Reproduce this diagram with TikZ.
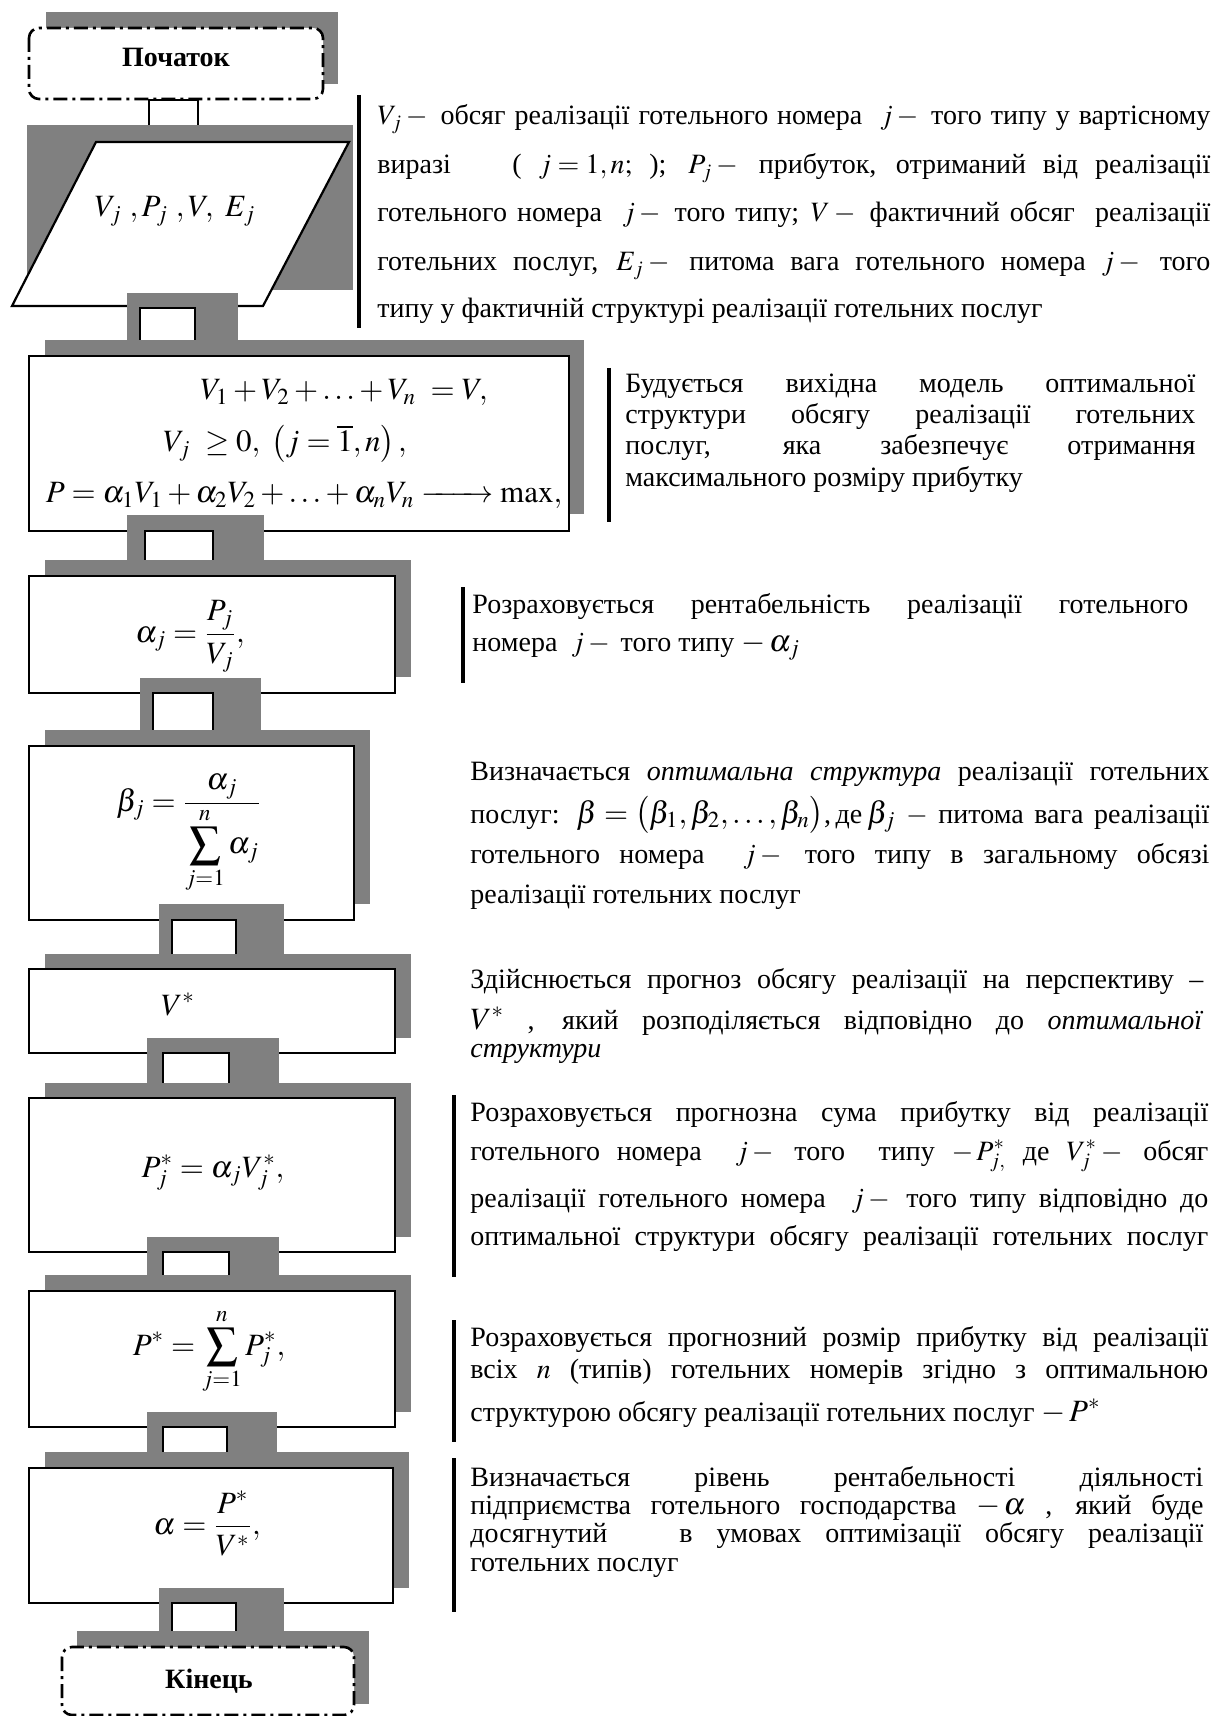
\documentclass[tikz,border=0pt]{standalone}
\usepackage{amsmath}
\IfFileExists{mathptmx.sty}{\usepackage{mathptmx}}{}
\usepackage{fontspec}
\setmainfont{Liberation Serif}
\definecolor{shgray}{HTML}{808080}
\newcommand\dsz{\fontsize{14}{16.8}\selectfont}
\newcommand\bsz{\fontsize{15.5}{18}\selectfont}
\newcommand\jline[2]{\makebox[#1][s]{#2}}
\newcommand\mm[1]{\mbox{$#1$}}
\begin{document}
\begin{tikzpicture}[x=0.5pt,y=-0.5pt,
  shd/.style={fill=shgray, draw=none},
  blk/.style={draw=black, fill=white, line width=1.1pt},
  term/.style={draw=black, fill=white, line width=1.3pt, rounded corners=5pt, dash pattern=on 7pt off 2.5pt on 1.5pt off 2.5pt},
  vbar/.style={draw=black, line width=1.6pt},
  dl/.style={anchor=base west, inner sep=0pt, font=\dsz},
  ml/.style={anchor=base, inner sep=0pt, font=\bsz},
  tl/.style={anchor=base, inner sep=0pt, font=\dsz\bfseries}]
\useasboundingbox (0,0) rectangle (1223,1716);
% ---------- start
\path[shd] (46,12) rectangle (338,84);
\path[term] (29,28) rectangle (323,99);
\node[tl] (start) at (176,67) {Початок};
\path[blk] (149,100) rectangle (198,126);
% ---------- input parallelogram
\path[shd] (27,125) rectangle (353,290);
\path[blk] (96,142) -- (349,142) -- (263,306) -- (12,306) -- cycle;
\node[ml] (m2) at (175,217) {$V_j\ ,P_j\ ,V,\ E_j$};
\path[shd] (127,293) rectangle (238,340);
\path[blk] (140,308) rectangle (195,342);
% ---------- box 3
\path[shd] (45,340) rectangle (584,514);
\path[blk] (29,356) rectangle (569,531);
\node[ml] (m3a) at (344,400) {$V_1+V_2+\ldots+V_n\ =V,$};
\node[ml] (m3b) at (285,452) {$V_j\ \geq 0,\ \left(j=\overline{1},n\right),$};
\node[ml] (m3c) at (304,503) {$P=\alpha_1V_1+\alpha_2V_2+\ldots+\alpha_nV_n \mathrel{\hbox to 36pt{\rightarrowfill}}\max,$};
\path[shd] (127,515) rectangle (264,560);
\path[blk] (145,531) rectangle (213,562);
% ---------- box 4
\path[shd] (45,560) rectangle (411,677);
\path[blk] (29,576) rectangle (395,693);
\node[ml] (m4) at (190,642) {$\alpha_j=\dfrac{P_j}{V_j},$};
\path[shd] (140,678) rectangle (261,730);
\path[blk] (153,693) rectangle (213,732);
% ---------- box 5
\path[shd] (45,730) rectangle (370,904);
\path[blk] (29,746) rectangle (354,920);
\node[ml] (m5) at (189,811) {$\beta_j=\dfrac{\alpha_j}{\displaystyle\sum_{j=1}^{n}\alpha_j}$};
\path[shd] (159,904) rectangle (284,954);
\path[blk] (172,920) rectangle (236,956);
% ---------- box 6
\path[shd] (45,954) rectangle (411,1038);
\path[blk] (29,969) rectangle (395,1053);
\node[ml] (m6) at (178,1015) {$V^*$};
\path[shd] (147,1038) rectangle (279,1083);
\path[blk] (163,1053) rectangle (229,1085);
% ---------- box 7
\path[shd] (45,1083) rectangle (411,1237);
\path[blk] (29,1098) rectangle (395,1252);
\node[ml] (m7) at (213,1177) {$P_j^*=\alpha_jV_j^*,$};
\path[shd] (147,1237) rectangle (279,1275);
\path[blk] (163,1252) rectangle (229,1277);
% ---------- box 8
\path[shd] (45,1275) rectangle (411,1412);
\path[blk] (29,1291) rectangle (395,1427);
\node[ml] (m8) at (209,1355) {$\displaystyle P^*=\sum_{j=1}^{n}P_j^*,$};
\path[shd] (147,1412) rectangle (277,1452);
\path[blk] (163,1427) rectangle (227,1454);
% ---------- box 9
\path[shd] (45,1452) rectangle (409,1588);
\path[blk] (29,1468) rectangle (393,1603);
\node[ml] (m9) at (207,1534) {$\alpha=\dfrac{P^*}{V^*},$};
\path[shd] (159,1588) rectangle (284,1631);
\path[blk] (172,1603) rectangle (236,1633);
% ---------- end
\path[shd] (77,1631) rectangle (369,1704);
\path[term] (62,1647) rectangle (354,1715);
\node[tl] (end) at (209,1688) {Кінець};
% ---------- bars
\draw[vbar] (359,95) -- (359,328);
\draw[vbar] (609,368) -- (609,522);
\draw[vbar] (463,587) -- (463,683);
\draw[vbar] (454,1095) -- (454,1277);
\draw[vbar] (454,1320) -- (454,1442);
\draw[vbar] (454,1458) -- (454,1612);
% ---------- description 1
\node[dl] (d1a) at (377,125) {\jline{416.5pt}{\mm{V_j -{}} обсяг реалізації готельного номера\ \ \mm{j -{}} того типу у вартісному}};
\node[dl] (d1b) at (377,174) {\jline{416.5pt}{виразі\hspace{2.2em}(\ \mm{j=1,n;}\ ); \mm{P_j -{}} прибуток, отриманий від реалізації}};
\node[dl] (d1c) at (377,222) {\jline{416.5pt}{готельного номера\ \ \mm{j -{}} того типу; \mm{V -{}} фактичний обсяг\ \ реалізації}};
\node[dl] (d1d) at (377,271) {\jline{416.5pt}{готельних послуг, \mm{E_j -{}} питома вага готельного номера \mm{j -{}} того}};
\node[dl] (d1e) at (377,318) {типу у фактичній структурі реалізації готельних послуг};
% ---------- description 2
\node[dl] (d2a) at (625,393) {\jline{285pt}{Будується вихідна модель оптимальної}};
\node[dl] (d2b) at (625,424) {\jline{285pt}{структури обсягу реалізації готельних}};
\node[dl] (d2c) at (625,455) {\jline{285pt}{послуг, яка забезпечує отримання}};
\node[dl] (d2d) at (625,487) {максимального розміру прибутку};
% ---------- description 3
\node[dl] (d3a) at (472,613) {\jline{358pt}{Розраховується рентабельність реалізації готельного}};
\node[dl] (d3b) at (472,651) {номера\ \ \mm{j -{}} того типу {\bsz\mm{-\,\alpha_j}}};
% ---------- description 4
\node[dl] (d4a) at (470,780) {\jline{369.5pt}{Визначається \textit{оптимальна структура} реалізації готельних}};
\node[dl] (d4b) at (470,823) {\jline{369.5pt}{послуг: {\bsz\mm{\beta=\bigl(\beta_1,\beta_2,\ldots,\beta_n\bigr)}},\,де\,{\bsz\mm{\beta_j}} \mm{-{}} питома вага реалізації}};
\node[dl] (d4c) at (470,863) {\jline{369.5pt}{готельного номера\ \ \mm{j -{}} того типу в загальному обсязі}};
\node[dl] (d4d) at (470,903) {реалізації готельних послуг};
% ---------- description 5
\node[dl] (d5a) at (470,988) {\jline{366.5pt}{Здійснюється прогноз обсягу реалізації на перспективу –}};
\node[dl] (d5b) at (470,1029) {\jline{366.5pt}{{\bsz\mm{V^*}}\ , який розподіляється відповідно до \textit{оптимальної}}};
\node[dl] (d5c) at (470,1057) {\textit{структури}};
% ---------- description 6
\node[dl] (d6a) at (470,1121) {\jline{369pt}{Розраховується прогнозна сума прибутку від реалізації}};
\node[dl] (d6b) at (470,1160) {\jline{369pt}{готельного номера\ \ \mm{j -{}} того\ \ типу \mm{-\,P^*_{j,}}\ де \mm{V^*_j -{}} обсяг}};
\node[dl] (d6c) at (470,1207) {\jline{369pt}{реалізації готельного номера\ \ \mm{j -{}} того типу відповідно до}};
\node[dl] (d6d) at (470,1245) {\jline{369pt}{оптимальної структури обсягу реалізації готельних послуг}};
% ---------- description 7
\node[dl] (d7a) at (470,1346) {\jline{369pt}{Розраховується прогнозний розмір прибутку від реалізації}};
\node[dl] (d7b) at (470,1378) {\jline{369pt}{всіх \mm{n} (типів) готельних номерів згідно з оптимальною}};
\node[dl] (d7c) at (470,1421) {структурою обсягу реалізації готельних послуг {\bsz\mm{-\,P^*}}};
% ---------- description 8
\node[dl] (d8a) at (470,1486) {\jline{366.5pt}{Визначається рівень рентабельності діяльності}};
\node[dl] (d8b) at (470,1514) {\jline{366.5pt}{підприємства готельного господарства {\bsz\mm{-\,\alpha}}\ , який буде}};
\node[dl] (d8c) at (470,1542) {\jline{366.5pt}{досягнутий\ \ \ в умовах оптимізації обсягу реалізації}};
\node[dl] (d8d) at (470,1571) {готельних послуг};
\end{tikzpicture}
\end{document}
